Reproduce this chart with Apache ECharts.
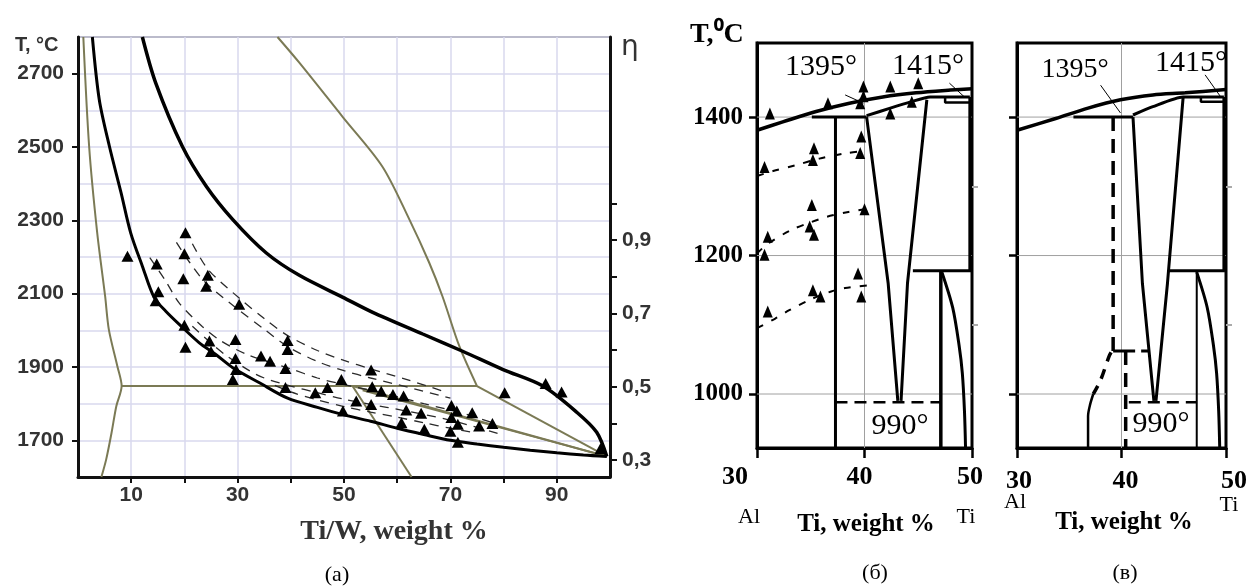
<!DOCTYPE html>
<html><head><meta charset="utf-8">
<script src="https://cdn.jsdelivr.net/npm/echarts@6/dist/echarts.min.js"></script>
<style>html,body{margin:0;padding:0;background:#fff}#c{width:1250px;height:587px}</style>
</head><body><div id="c"></div>
<script>
// ---------- Panel (a): Ti/W ----------
const aXTicks = [10,20,30,40,50,60,70,80,90];
const aXLabels = [10,30,50,70,90];
const aYLabels = [1700,1900,2100,2300,2500,2700];
const etaTicks = [0.3,0.4,0.5,0.6,0.7,0.8,0.9,1.0];
const etaLabels = [0.3,0.5,0.7,0.9];

const aBlackUpper = [[12.1,2800],[14.6,2675],[19.6,2502],[24.1,2393],[29.1,2302],[35.4,2211],[41.6,2150],[49.8,2090],[55.4,2049],[64.8,1990],[72.3,1943],[79.9,1893],[87.4,1848],[93.8,1776],[97.5,1722],[99.4,1656]];
const aBlackLower = [[2.7,2800],[4.0,2629],[5.9,2502],[8.1,2375],[9.9,2266],[12.1,2175],[14.3,2090],[16.5,2052],[19.7,2007],[22.8,1966],[25.9,1934],[29.1,1898],[34.1,1857],[39.4,1815],[45,1790],[49.8,1770],[55,1752],[60,1733],[65,1716],[70,1700],[75,1690],[80,1681],[85,1673],[90,1666],[95,1660],[99.4,1656]];
const aOliveLeft = [[1.0,2800],[2.1,2500],[3.6,2267],[5.1,2093],[5.8,2002],[7.4,1902],[8.2,1848],[7.2,1793],[6.3,1720],[5.3,1648],[4.4,1600]];
const aOliveHoriz = [[8.2,1848],[75,1848]];
const aOliveSteepTop = [[37.5,2800],[41.6,2730],[49.7,2583],[57.2,2447],[62.3,2302],[66,2185],[68.5,2093],[71.7,1956],[75,1848]];
const aOliveFan1 = [[75,1848],[99.4,1656]];
const aOliveFan2 = [[51.6,1848],[99.4,1656]];
const aOliveFan3 = [[53.5,1836],[99.4,1656]];
const aOliveSteepLow = [[51.6,1848],[62.7,1600]];
const aDashed1 = [[21.5,2236],[24.5,2165],[30.3,2088],[35,2032],[39.5,1985],[45,1945],[50,1918],[55,1895],[62,1865],[69.5,1830]];
const aDashed2 = [[18.5,2240],[21,2185],[24,2130],[30,2058],[35,2003],[39.5,1955],[45,1915],[50,1890],[55,1870],[62,1845],[70,1815]];
const aDashed3 = [[13.5,2198],[16.5,2134],[19,2075],[23.4,2010],[27,1970],[31.6,1935],[36,1913],[40,1895],[45,1870],[50,1852],[57,1830],[65,1800],[72,1775],[78,1748]];
const aDashed4 = [[21.5,2011],[25,1965],[27.8,1932],[32.2,1890],[35,1870],[40,1848],[45,1830],[50,1812],[55,1798],[61,1782],[70,1755],[80,1714]];
const aDashed5 = [[37,1850],[40,1832],[45,1810],[50,1792],[55,1777],[60,1763],[65,1748],[70,1733],[75,1720]];
const aTriangles = [[20.2,2266],[9.3,2202],[20.0,2209],[14.8,2181],[24.4,2150],[19.8,2141],[24.1,2120],[15.1,2105],[14.6,2081],[30.3,2071],[20.0,2014],[20.2,1954],[24.7,1971],[25.0,1942],[29.6,1975],[29.6,1923],[29.7,1893],[29.1,1866],[39.4,1972],[39.4,1948],[34.4,1930],[36.1,1916],[39.0,1896],[39.0,1844],[55.1,1892],[49.5,1866],[46.9,1844],[44.6,1830],[55.3,1846],[57.0,1834],[59.2,1825],[61.2,1821],[52.3,1807],[55.1,1798],[49.8,1780],[61.7,1783],[64.5,1774],[60.8,1748],[65.1,1730],[70.2,1795],[71.2,1780],[70.2,1762],[71.4,1744],[70.0,1725],[71.4,1695],[74.1,1775],[75.4,1739],[77.9,1746],[80.2,1830],[87.9,1855],[90.9,1832],[98.2,1677]];

// ---------- Panels (б) and (в): Ti-Al ----------
const tiXTicks = [30,40,50];
const tiYLabels = [1000,1200,1400];
const tiYMinor = [1100,1300];
const tiGridX = [40];

const bLiquidus = [[30,1381],[32.4,1393],[35.5,1408],[38.6,1420],[41.7,1429],[44.8,1435],[48,1439],[50,1441]];
const bSolidus = [[40.2,1402],[42.4,1413],[44.3,1422],[46.1,1429],[49.8,1429]];
const bSolidusStep = [[47.5,1429],[47.5,1421],[49.8,1421]];
const bPeritectic = [[35.1,1400],[40.2,1400]];
const bVert37 = [[37.3,1400],[37.3,922]];
const bVLeft = [[40.2,1400],[42.2,1160],[43.1,990]];
const bVRight = [[43.4,990],[44.0,1160],[45.8,1425]];
const bHor1178 = [[44.5,1178],[50,1178]];
const bVert498 = [[49.8,1429],[49.8,1178]];
const bVert471 = [[47.1,1178],[47.1,922]];
const tiCurve = [[47.2,1176],[48.2,1125],[48.8,1070],[49.1,1030],[49.3,975],[49.4,922]];
const bEutectoid = [[37.3,988],[47.1,988]];
const bLeader1395 = [[38.2,1432],[39.9,1420]];
const bLeader1415 = [[47.9,1449],[49.3,1429]];
const bDash1 = [[30,1315],[31.5,1322],[33.5,1330],[35.8,1340],[38.4,1348],[40,1351]];
const bDash2 = [[30,1203],[31,1217],[33.2,1237],[35,1248],[36.5,1256],[38.5,1263],[40,1267]];
const bDash3 = [[30,1095],[31.7,1109],[33,1121],[34.9,1136],[36.9,1148],[38.2,1153],[40.4,1157]];
const bTriangles = [[31.2,1405],[36.6,1420],[39.9,1444],[39.6,1420],[39.9,1430],[42.4,1444],[42.4,1405],[45,1449],[44.4,1422],[30.7,1328],[35.3,1355],[35.2,1338],[39.7,1372],[39.6,1348],[35.1,1273],[34.9,1242],[35.3,1230],[40,1267],[31,1227],[30.7,1201],[39.4,1174],[39.7,1141],[35.2,1150],[35.9,1141],[31,1119]];

const vLiquidus = [[30,1381],[33.7,1398],[36.8,1413],[39.9,1425],[43,1432],[46.1,1435],[50,1440]];
const vSolidus = [[41.1,1403],[43,1415],[45.9,1429],[49.8,1429]];
const vSolidusStep = [[47.6,1429],[47.6,1422],[49.8,1422]];
const vPeritectic = [[35.4,1400],[41.1,1400]];
const vDashVert39 = [[39.2,1400],[39.2,1062]];
const vHor1062 = [[39.2,1062],[42.6,1062]];
const vDashVert40 = [[40.4,1062],[40.4,922]];
const vCurveDashed = [[39.0,1060],[38.8,1054],[38.0,1020],[37.3,1000]];
const vCurveSolid = [[37.3,1000],[37.0,985],[36.8,968],[36.8,922]];
const vVLeft = [[41.1,1400],[42.0,1160],[43.1,990]];
const vVRight = [[43.3,990],[44.4,1160],[45.9,1429]];
const vEutectoid = [[40.7,988],[47.2,988]];
const vVert472 = [[47.2,1178],[47.2,922]];
const vHor1178 = [[44.5,1178],[49.9,1178]];
const vVert498 = [[49.8,1429],[49.8,1178]];
const vLeader1395 = [[38.0,1446],[39.9,1406]];
const vLeader1415 = [[48.0,1461],[49.5,1429]];

// ---------- build ----------
const TI_MIN_X = 30, TI_MAX_X = 50, TI_MIN_Y = 922, TI_MAX_Y = 1507;

function ln(xi, yi, data, color, width, type, smooth, z) {
  return {type:'line', xAxisIndex:xi, yAxisIndex:yi, data:data, symbol:'none', showSymbol:false,
    smooth: smooth || false, lineStyle:{color:color, width:width, type:type || 'solid', cap:'butt'},
    silent:true, animation:false, z: z || 3};
}
function tri(xi, yi, data, size) {
  return {type:'scatter', xAxisIndex:xi, yAxisIndex:yi, data:data, symbol:'triangle', symbolSize:size,
    itemStyle:{color:'#000', opacity:1}, silent:true, animation:false, z:6};
}

const OLIVE = '#7b7a55', DASH = '#2a2a2a';
const series = [];
// panel a
series.push(ln(0,0,aOliveLeft,OLIVE,2,'solid',0.3));
series.push(ln(0,0,aOliveHoriz,OLIVE,2));
series.push(ln(0,0,aOliveSteepTop,OLIVE,2,'solid',0.3));
series.push(ln(0,0,aOliveFan1,OLIVE,2));
series.push(ln(0,0,aOliveFan2,OLIVE,2));
series.push(ln(0,0,aOliveFan3,OLIVE,1.8));
series.push(ln(0,0,aOliveSteepLow,OLIVE,2));
[aDashed1,aDashed2,aDashed3,aDashed4,aDashed5].forEach(d => series.push(ln(0,0,d,DASH,1.3,[9,7],0.3)));
series.push(ln(0,0,aBlackUpper,'#000',3.5,'solid',0.3,4));
series.push(ln(0,0,aBlackLower,'#000',3,'solid',0.3,4));
series.push(tri(0,0,aTriangles,[12,11]));

// grid lines for б and в built from tick arrays
[[1,2],[2,3]].forEach(([xi,yi]) => {
  tiYLabels.forEach(v => series.push(ln(xi,yi,[[TI_MIN_X,v],[TI_MAX_X,v]],'#a0a0a0',1,'solid',false,1)));
  tiGridX.forEach(v => series.push(ln(xi,yi,[[v,TI_MIN_Y],[v,TI_MAX_Y]],'#a0a0a0',1,'solid',false,1)));
  series.push(ln(xi,yi,tiCurve,'#000',3,'solid',0.3));
});
// panel б
series.push(ln(1,2,bLiquidus,'#000',3.5,'solid',0.3));
series.push(ln(1,2,bSolidus,'#000',3,'solid',0.2));
series.push(ln(1,2,bSolidusStep,'#000',2.5));
series.push(ln(1,2,bPeritectic,'#000',3));
series.push(ln(1,2,bVert37,'#000',3));
series.push(ln(1,2,bVLeft,'#000',3));
series.push(ln(1,2,bVRight,'#000',3));
series.push(ln(1,2,bHor1178,'#000',3));
series.push(ln(1,2,bVert498,'#000',3));
series.push(ln(1,2,bVert471,'#000',3.5));
series.push(ln(1,2,bEutectoid,'#000',2.5,[12,7]));
series.push(ln(1,2,bLeader1395,'#000',1));
series.push(ln(1,2,bLeader1415,'#000',1));
[bDash1,bDash2,bDash3].forEach(d => series.push(ln(1,2,d,'#000',2,[7,9],0.3)));
series.push(tri(1,2,bTriangles,[10,12]));
// panel в
series.push(ln(2,3,vLiquidus,'#000',3.5,'solid',0.3));
series.push(ln(2,3,vSolidus,'#000',3,'solid',0.2));
series.push(ln(2,3,vSolidusStep,'#000',2.5));
series.push(ln(2,3,vPeritectic,'#000',3));
series.push(ln(2,3,vDashVert39,'#000',3.5,[14,8]));
series.push(ln(2,3,vHor1062,'#000',3,[22,6]));
series.push(ln(2,3,vDashVert40,'#000',3.5,[14,8]));
series.push(ln(2,3,vCurveDashed,'#000',3.5,[10,8],0.3));
series.push(ln(2,3,vCurveSolid,'#000',2.5,'solid',0.3));
series.push(ln(2,3,vVLeft,'#000',3));
series.push(ln(2,3,vVRight,'#000',3));
series.push(ln(2,3,vEutectoid,'#000',2.5,[12,7]));
series.push(ln(2,3,vVert472,'#000',2));
series.push(ln(2,3,vHor1178,'#000',3));
series.push(ln(2,3,vVert498,'#000',3));
series.push(ln(2,3,vLeader1395,'#000',1));
series.push(ln(2,3,vLeader1415,'#000',1));

const plain = v => String(v);
const sansLbl = {fontFamily:'Liberation Sans', fontWeight:'bold', fontSize:21, color:'#333'};
const serifLbl = {fontFamily:'Liberation Serif', fontWeight:'bold', fontSize:26, color:'#000'};
function rich(pads) {
  const r = {};
  Object.keys(pads).forEach(k => { r['s'+k] = Object.assign({padding:pads[k]}, serifLbl); });
  return r;
}

const option = {
  backgroundColor:'#fff',
  animation:false,
  grid:[
    {left:78, top:37, width:532, height:440, show:true, borderColor:'#666', borderWidth:2},
    {left:757, top:43, width:215, height:405, show:true, borderColor:'#000', borderWidth:3},
    {left:1017, top:43, width:215, height:405, show:true, borderColor:'#000', borderWidth:3}
  ],
  xAxis:[
    {gridIndex:0, type:'value', min:0, max:100, interval:10,
     axisLine:{lineStyle:{color:'#111', width:3}},
     axisTick:{customValues:aXTicks, length:6, lineStyle:{color:'#111', width:2}},
     axisLabel:Object.assign({customValues:aXLabels, margin:8, formatter:plain}, sansLbl),
     splitLine:{show:true, lineStyle:{color:'#d8d8ee', width:1.5}}},
    {gridIndex:1, type:'value', min:TI_MIN_X, max:TI_MAX_X, interval:10,
     axisLine:{lineStyle:{color:'#000', width:3}},
     axisTick:{length:10, lineStyle:{color:'#000', width:2.5}},
     axisLabel:{margin:16, formatter: v => '{s'+v+'|'+v+'}', rich:rich({30:[0,44,0,0],40:[0,10,0,0],50:[0,4,0,0]})},
     splitLine:{show:false}},
    {gridIndex:2, type:'value', min:TI_MIN_X, max:TI_MAX_X, interval:10,
     axisLine:{lineStyle:{color:'#000', width:3}},
     axisTick:{length:10, lineStyle:{color:'#000', width:2.5}},
     axisLabel:{margin:20, formatter: v => '{s'+v+'|'+v+'}', rich:rich({30:[0,0,0,4],40:[0,0,0,8],50:[0,0,0,16]})},
     splitLine:{show:false}}
  ],
  yAxis:[
    {gridIndex:0, type:'value', min:1600, max:2800,
     axisLine:{show:true, lineStyle:{color:'#111', width:3}},
     axisTick:{customValues:aYLabels, length:6, lineStyle:{color:'#111', width:2}},
     axisLabel:Object.assign({customValues:aYLabels, margin:14, formatter:plain}, sansLbl),
     splitLine:{show:false}},
    {gridIndex:0, type:'value', position:'right', min:0.254, max:1.454,
     axisLine:{show:true, lineStyle:{color:'#111', width:3}},
     axisTick:{customValues:etaTicks, length:7, lineStyle:{color:'#111', width:2}},
     axisLabel:Object.assign({customValues:etaLabels, margin:12, formatter: v => v.toFixed(1).replace('.', ',')}, sansLbl),
     splitLine:{show:false}},
    {gridIndex:1, type:'value', min:TI_MIN_Y, max:TI_MAX_Y,
     axisLine:{show:true, lineStyle:{color:'#000', width:3}},
     axisTick:{customValues:tiYLabels, length:8, lineStyle:{color:'#000', width:2.5}},
     axisLabel:{customValues:tiYLabels, margin:14, formatter:plain, fontFamily:'Liberation Serif', fontWeight:'bold', fontSize:25, color:'#000'},
     splitLine:{show:false}},
    {gridIndex:2, type:'value', min:TI_MIN_Y, max:TI_MAX_Y,
     axisLine:{show:true, lineStyle:{color:'#000', width:3}},
     axisTick:{customValues:tiYLabels, length:8, lineStyle:{color:'#000', width:2.5}},
     axisLabel:{show:false},
     splitLine:{show:false}},
    {gridIndex:0, type:'value', min:1600, max:2800, interval:100,
     axisLine:{show:false}, axisTick:{show:false}, axisLabel:{show:false},
     splitLine:{show:true, lineStyle:{color:'#d8d8ee', width:1.5}}},
    {gridIndex:1, type:'value', min:TI_MIN_Y, max:TI_MAX_Y,
     axisLine:{show:false}, axisTick:{customValues:tiYMinor, length:6, lineStyle:{color:'#aaa', width:2}},
     axisLabel:{show:false}, splitLine:{show:false}},
    {gridIndex:2, type:'value', min:TI_MIN_Y, max:TI_MAX_Y,
     axisLine:{show:false}, axisTick:{customValues:tiYMinor, length:6, lineStyle:{color:'#aaa', width:2}},
     axisLabel:{show:false}, splitLine:{show:false}}
  ],
  graphic:[
    {type:'text', z:100, style:{text:'T, °C', x:15, y:45, font:'bold 20px "Liberation Sans"', fill:'#333', textAlign:'left', textVerticalAlign:'middle'}},
    {type:'text', z:100, style:{text:'η', x:621, y:48, font:'28px "DejaVu Sans"', fill:'#333', textAlign:'left', textVerticalAlign:'middle'}},
    {type:'text', z:100, style:{text:'Ti/W, weight %', x:394, y:532, font:'bold 28px "Liberation Serif"', fill:'#333', textAlign:'center', textVerticalAlign:'middle'}},
    {type:'text', z:100, style:{text:'(a)', x:337, y:575, font:'22px "Liberation Serif"', fill:'#000', textAlign:'center', textVerticalAlign:'middle'}},

    {type:'text', z:100, style:{text:'T,⁰C', x:690, y:35, font:'bold 28px "Liberation Serif"', fill:'#000', textAlign:'left', textVerticalAlign:'middle'}},
    {type:'text', z:100, style:{text:'1395°', x:821, y:67, font:'30px "Liberation Serif"', fill:'#000', textAlign:'center', textVerticalAlign:'middle'}},
    {type:'text', z:100, style:{text:'1415°', x:928, y:66, font:'30px "Liberation Serif"', fill:'#000', textAlign:'center', textVerticalAlign:'middle'}},
    {type:'text', z:100, style:{text:'990°', x:900, y:426, font:'30px "Liberation Serif"', fill:'#000', textAlign:'center', textVerticalAlign:'middle'}},
    {type:'text', z:100, style:{text:'Al', x:749, y:517, font:'22px "Liberation Serif"', fill:'#000', textAlign:'center', textVerticalAlign:'middle'}},
    {type:'text', z:100, style:{text:'Ti', x:966, y:517, font:'22px "Liberation Serif"', fill:'#000', textAlign:'center', textVerticalAlign:'middle'}},
    {type:'text', z:100, style:{text:'Ti, weight %', x:866, y:525, font:'bold 25px "Liberation Serif"', fill:'#000', textAlign:'center', textVerticalAlign:'middle'}},
    {type:'text', z:100, style:{text:'(б)', x:875, y:573, font:'22px "Liberation Serif"', fill:'#000', textAlign:'center', textVerticalAlign:'middle'}},

    {type:'text', z:100, style:{text:'1395°', x:1075, y:70, font:'28px "Liberation Serif"', fill:'#000', textAlign:'center', textVerticalAlign:'middle'}},
    {type:'text', z:100, style:{text:'1415°', x:1191, y:63, font:'30px "Liberation Serif"', fill:'#000', textAlign:'center', textVerticalAlign:'middle'}},
    {type:'text', z:100, style:{text:'990°', x:1161, y:424, font:'30px "Liberation Serif"', fill:'#000', textAlign:'center', textVerticalAlign:'middle'}},
    {type:'text', z:100, style:{text:'Al', x:1015, y:502, font:'22px "Liberation Serif"', fill:'#000', textAlign:'center', textVerticalAlign:'middle'}},
    {type:'text', z:100, style:{text:'Ti', x:1229, y:505, font:'22px "Liberation Serif"', fill:'#000', textAlign:'center', textVerticalAlign:'middle'}},
    {type:'text', z:100, style:{text:'Ti, weight %', x:1124, y:523, font:'bold 25px "Liberation Serif"', fill:'#000', textAlign:'center', textVerticalAlign:'middle'}},
    {type:'text', z:100, style:{text:'(в)', x:1125, y:573, font:'22px "Liberation Serif"', fill:'#000', textAlign:'center', textVerticalAlign:'middle'}}
  ],
  series: series
};
const chart = echarts.init(document.getElementById('c'), null, {renderer:'canvas'});
chart.setOption(option);
</script></body></html>
